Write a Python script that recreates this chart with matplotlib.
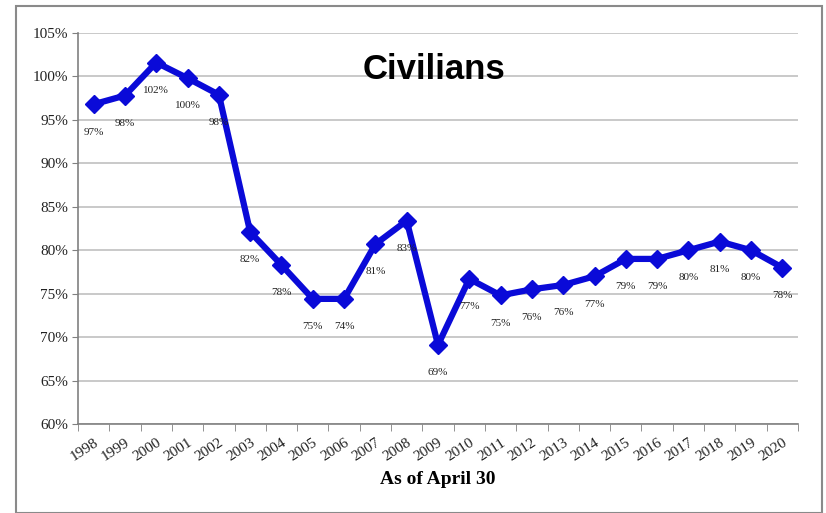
import numpy as np
import matplotlib
matplotlib.use("Agg")
import matplotlib.pyplot as plt
from matplotlib.patches import Rectangle

# Civilians, share as of April 30
years = [str(y) for y in range(1998, 2021)]
values = [96.8, 97.8, 101.6, 99.8, 97.9, 82.1, 78.3, 74.4, 74.4, 80.7, 83.4, 69.1,
          76.7, 74.8, 75.5, 76.0, 77.0, 79.0, 79.0, 80.0, 81.0, 80.0, 78.0]
labels = ["97%", "98%", "102%", "100%", "98%", "82%", "78%", "75%", "74%", "81%", "83%", "69%",
          "77%", "75%", "76%", "76%", "77%", "79%", "79%", "80%", "81%", "80%", "78%"]
yticks = [60, 65, 70, 75, 80, 85, 90, 95, 100, 105]

serif = "Liberation Serif"
blue = "#0a0ad8"


def main():
    fig = plt.figure(figsize=(8.26, 5.13), dpi=100)
    # outer chart frame
    fig.patches.append(Rectangle((16 / 826, 0.0), 806 / 826, 507 / 513, transform=fig.transFigure,
                                 fill=False, edgecolor="#8a8a8a", linewidth=1.5))

    ax = fig.add_axes([78 / 826, 89 / 513, 720 / 826, 391 / 513])
    x = np.arange(len(years))

    ax.plot(x, values, color=blue, linewidth=4.5, marker="D", markersize=9,
            markerfacecolor=blue, markeredgecolor=blue, zorder=3)

    for xi, v, lab in zip(x, values, labels):
        ax.annotate(lab, (xi, v), xytext=(0, -20), textcoords="offset points",
                    ha="center", va="center", fontsize=8, family=serif, color="#222222")

    ax.set_xlim(-0.5, len(years) - 0.5)
    ax.set_ylim(60, 105)
    ax.set_yticks(yticks)
    ax.set_yticklabels([f"{t}%" for t in yticks], family=serif, fontsize=11, color="#222222")
    ax.yaxis.grid(True, color="#c0c0c0", linewidth=1.2)
    ax.set_axisbelow(True)

    # category ticks between the years, labels at the centres
    ax.set_xticks(x)
    ax.set_xticklabels(years, rotation=33, ha="right", rotation_mode="anchor",
                       family=serif, fontsize=11, color="#222222")
    ax.tick_params(axis="x", length=0, pad=9)
    ax.set_xticks(np.arange(-0.5, len(years)), minor=True)
    ax.tick_params(axis="x", which="minor", length=5, color="#808080", direction="out")
    ax.tick_params(axis="y", length=4, color="#808080", pad=3)

    for side in ["top", "right"]:
        ax.spines[side].set_visible(False)
    for side in ["left", "bottom"]:
        ax.spines[side].set_color("#808080")
        ax.spines[side].set_linewidth(1.2)

    ax.set_xlabel("As of April 30", family=serif, fontsize=14, fontweight="bold", labelpad=5)
    ax.text(0.495, 0.907, "Civilians", transform=ax.transAxes, ha="center", va="center",
            family="Liberation Sans", fontsize=25, fontweight="bold")

    fig.savefig("out.png", dpi=100)


if __name__ == "__main__":
    main()
